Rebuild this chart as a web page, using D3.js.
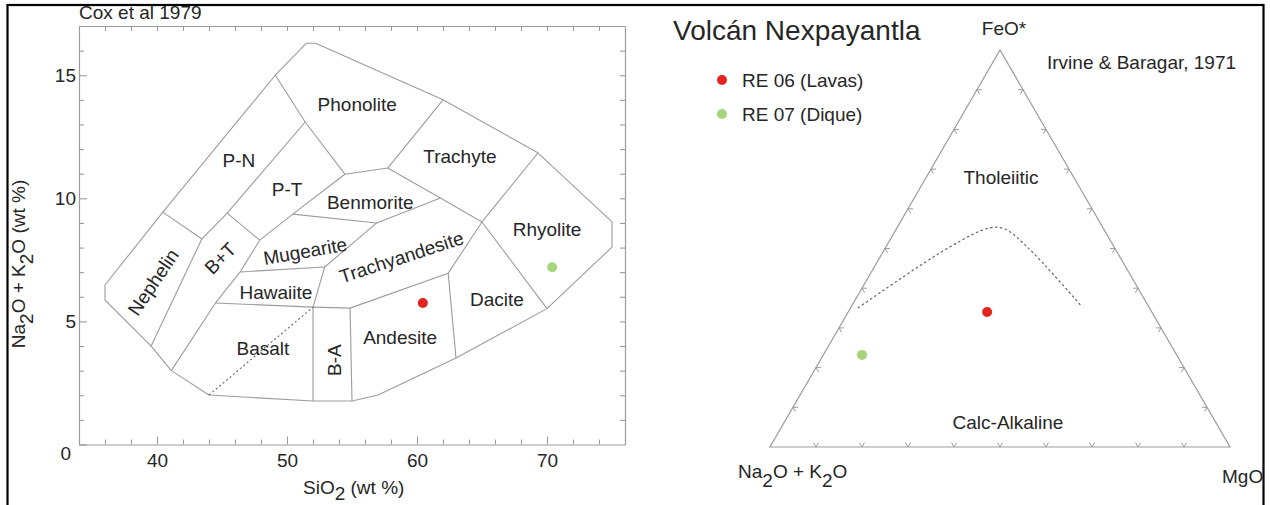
<!DOCTYPE html>
<html>
<head>
<meta charset="utf-8">
<script src="https://cdn.jsdelivr.net/npm/d3@7"></script>
<style>
  body { margin: 0; background: #fff; }
  svg { display: block; }
</style>
</head>
<body>
<svg id="chart" width="1270" height="505"></svg>
<script>
// TAS diagram (Cox et al 1979): points are [SiO2, Na2O+K2O] in wt %
const tasOuter = [
  [51.5, 16.3], [52.2, 16.3], [62.0, 14.0], [69.3, 11.85], [75.0, 9.04], [75.0, 8.02],
  [70.0, 5.52], [63.0, 3.51], [57.0, 2.01], [55.0, 1.77], [52.0, 1.77], [44.0, 2.01],
  [41.1, 3.0], [39.55, 4.0], [36.0, 5.87], [36.0, 6.48], [40.45, 9.44], [49.1, 15.0], [51.5, 16.3]
];
const tasLines = [
  [[40.45, 9.44], [43.45, 8.35]],
  [[43.45, 8.35], [39.55, 4.0]],
  [[43.45, 8.35], [45.4, 9.4], [51.4, 13.1]],
  [[45.4, 9.4], [47.9, 8.3]],
  [[49.1, 15.0], [51.4, 13.1], [54.45, 10.98], [57.75, 11.23], [62.0, 14.0]],
  [[47.9, 8.3], [50.45, 9.36], [54.45, 10.98]],
  [[50.45, 9.36], [56.9, 9.0], [61.8, 10.01]],
  [[57.75, 11.23], [61.8, 10.01], [65.0, 9.04]],
  [[56.9, 9.0], [52.9, 7.21], [52.0, 5.58]],
  [[47.9, 8.3], [46.4, 7.01], [44.5, 5.75], [41.1, 3.0]],
  [[46.4, 7.01], [52.9, 7.21]],
  [[44.5, 5.75], [52.0, 5.58], [54.85, 5.54], [62.4, 6.96], [65.0, 9.04]],
  [[52.0, 5.58], [52.0, 1.77]],
  [[54.85, 5.54], [55.0, 1.77]],
  [[62.4, 6.96], [63.0, 3.51]],
  [[65.0, 9.04], [69.3, 11.84]],
  [[65.0, 9.04], [70.0, 5.52]]
];
const tasDashed = [[44.0, 2.01], [52.0, 5.58]];

const fieldNames = ['Phonolite', 'Trachyte', 'P-N', 'P-T', 'Benmorite', 'Mugearite', 'Trachyandesite',
  'Hawaiite', 'Nephelin', 'B+T', 'Basalt', 'B-A', 'Andesite', 'Dacite', 'Rhyolite'];
const fieldSiO2 = [55.4, 63.3, 46.3, 50.0, 56.4, 51.4, 58.8, 49.15, 39.7, 44.85, 48.15, 53.6, 58.7, 66.15, 70.0];
const fieldAlk = [13.83, 11.72, 11.56, 10.38, 9.85, 7.86, 7.62, 6.19, 6.6, 7.57, 3.92, 3.43, 4.37, 5.91, 8.75];
const fieldTilt = { 'Mugearite': -10, 'Trachyandesite': -18, 'Nephelin': -56, 'B+T': -45, 'B-A': -90 };

const xTicks = [36, 38, 40, 42, 44, 46, 48, 50, 52, 54, 56, 58, 60, 62, 64, 66, 68, 70, 72, 74];
const xLabels = [40, 50, 60, 70];
const yTicks = [0, 1, 2, 3, 4, 5, 6, 7, 8, 9, 10, 11, 12, 13, 14, 15, 16];
const yLabels = [0, 5, 10, 15];

// samples
const sampleNames = ['RE 06 (Lavas)', 'RE 07 (Dique)'];
const sampleColors = ['#e12420', '#a8d47c'];
const sampleSiO2 = [60.45, 70.4];
const sampleAlk = [5.75, 7.2];
// AFM (Irvine & Baragar, 1971): A = Na2O+K2O, F = FeO*, M = MgO
const sampleA = [35.8, 68.4];
const sampleF = [34.0, 23.2];
const sampleM = [30.2, 8.4];
const ibA = [63.4, 35.7, 24.6, 21.5, 18.9, 14.5];
const ibF = [35.0, 50.4, 55.2, 54.9, 50.4, 35.3];
const ibM = [1.6, 13.9, 20.2, 23.6, 30.7, 50.2];
const afmTicks = [10, 20, 30, 40, 50, 60, 70, 80, 90];

const font = '"Liberation Sans", Arial, sans-serif';
const ink = '#262626';
const gray = '#9c9c9c';
const svg = d3.select('#chart').attr('font-family', font);

// frame
svg.append('rect').attr('x', 7.5).attr('y', 5).attr('width', 1256).attr('height', 540)
  .attr('fill', 'none').attr('stroke', '#000').attr('stroke-width', 2.2);

// ---------- TAS ----------
const x = d3.scaleLinear().domain([34, 76]).range([79, 625]);
const y = d3.scaleLinear().domain([0, 17]).range([444.5, 26]);
const line = d3.line().x(d => x(d[0])).y(d => y(d[1]));

const styleAxis = g => {
  g.attr('font-family', font).attr('font-size', 19);
  g.select('.domain').attr('stroke', gray).attr('stroke-width', 1.2);
  g.selectAll('.tick line').attr('stroke', gray).attr('stroke-width', 1.1);
  g.selectAll('.tick text').attr('fill', ink);
};

const gb = svg.append('g').attr('transform', `translate(0,${y(0)})`)
  .call(d3.axisBottom(x).tickValues(xTicks).tickSizeInner(-5).tickSizeOuter(0).tickPadding(9)
    .tickFormat(d => xLabels.includes(d) ? d : ''));
styleAxis(gb);
gb.selectAll('.tick line').attr('y2', d => xLabels.includes(d) ? -8 : -5);

const gt = svg.append('g').attr('transform', `translate(0,${y(17)})`)
  .call(d3.axisTop(x).tickValues(xTicks).tickSizeInner(-5).tickSizeOuter(0).tickFormat(''));
styleAxis(gt);

const gl = svg.append('g').attr('transform', `translate(${x(34)},0)`)
  .call(d3.axisLeft(y).tickValues(yTicks).tickSizeInner(-5).tickSizeOuter(0).tickPadding(3)
    .tickFormat(d => yLabels.includes(d) ? d : ''));
styleAxis(gl);
gl.selectAll('.tick line').attr('x2', d => yLabels.includes(d) ? 8 : 5);
gl.selectAll('.tick text').filter(d => d === 0).attr('transform', 'translate(-5,9)');

const gr = svg.append('g').attr('transform', `translate(${x(76)},0)`)
  .call(d3.axisRight(y).tickValues(yTicks.slice(1)).tickSizeInner(-5).tickSizeOuter(0).tickFormat(''));
styleAxis(gr);

svg.append('text').attr('x', 79).attr('y', 19).attr('font-size', 19).attr('fill', ink).text('Cox et al 1979');

// axis titles
const xt = svg.append('text').attr('x', 303).attr('y', 494).attr('font-size', 19).attr('fill', ink);
xt.append('tspan').text('SiO');
xt.append('tspan').attr('dy', 6).text('2');
xt.append('tspan').attr('dy', -6).text(' (wt %)');

const yt = svg.append('text').attr('transform', 'translate(25,264) rotate(-90)')
  .attr('text-anchor', 'middle').attr('font-size', 19).attr('fill', ink);
yt.append('tspan').text('Na');
yt.append('tspan').attr('dy', 8).text('2');
yt.append('tspan').attr('dy', -8).text('O + K');
yt.append('tspan').attr('dy', 8).text('2');
yt.append('tspan').attr('dy', -8).text('O  (wt %)');

// fields
const tas = svg.append('g').attr('fill', 'none').attr('stroke', gray).attr('stroke-width', 1.1)
  .attr('stroke-linejoin', 'round');
tas.append('path').attr('d', line(tasOuter));
tas.selectAll('path.b').data(tasLines).join('path').attr('class', 'b').attr('d', line);
tas.append('path').attr('d', line(tasDashed)).attr('stroke', '#666').attr('stroke-dasharray', '2,2.5');

svg.append('g').selectAll('text').data(fieldNames).join('text')
  .attr('transform', (d, i) => `translate(${x(fieldSiO2[i])},${y(fieldAlk[i])}) rotate(${fieldTilt[d] || 0})`)
  .attr('text-anchor', 'middle').attr('dy', '0.36em').attr('font-size', 19).attr('fill', ink)
  .text(d => d);

svg.append('g').selectAll('circle').data(sampleNames).join('circle')
  .attr('cx', (d, i) => x(sampleSiO2[i])).attr('cy', (d, i) => y(sampleAlk[i]))
  .attr('r', 5).attr('fill', (d, i) => sampleColors[i]);

// ---------- legend ----------
svg.append('text').attr('x', 673).attr('y', 40).attr('font-size', 28).attr('fill', ink).text('Volcán Nexpayantla');
const lg = svg.append('g').selectAll('g').data(sampleNames).join('g')
  .attr('transform', (d, i) => `translate(722,${80 + i * 34})`);
lg.append('circle').attr('r', 5).attr('fill', (d, i) => sampleColors[i]);
lg.append('text').attr('x', 20).attr('y', 7).attr('font-size', 19).attr('fill', ink).text(d => d);

// ---------- AFM ----------
const h = Math.sqrt(3) / 2;
const tx = d3.scaleLinear().domain([0, 1]).range([770, 1230]);
const ty = d3.scaleLinear().domain([0, h]).range([447, 50]);
const tern = (a, f, m) => {
  const s = a + f + m;
  return [tx((m + f / 2) / s), ty(f / s * h)];
};
const afm = svg.append('g').attr('fill', 'none').attr('stroke', gray).attr('stroke-width', 1.2);
afm.append('path').attr('d', d3.line()([tern(100, 0, 0), tern(0, 0, 100), tern(0, 100, 0)]) + 'Z');

// chevron ticks along each side
const tk = 1.1;
const tickSegs = [];
afmTicks.forEach(t => {
  // bottom (F = 0)
  let p = [100 - t, 0, t];
  tickSegs.push([p, [p[0] - tk, tk, p[2]]], [p, [p[0], tk, p[2] - tk]]);
  // left (M = 0)
  p = [100 - t, t, 0];
  tickSegs.push([p, [p[0] - tk, p[1], tk]], [p, [p[0], p[1] - tk, tk]]);
  // right (A = 0)
  p = [0, t, 100 - t];
  tickSegs.push([p, [tk, p[1] - tk, p[2]]], [p, [tk, p[1], p[2] - tk]]);
});
afm.selectAll('line').data(tickSegs).join('line')
  .attr('x1', d => tern(...d[0])[0]).attr('y1', d => tern(...d[0])[1])
  .attr('x2', d => tern(...d[1])[0]).attr('y2', d => tern(...d[1])[1])
  .attr('stroke-width', 1);

const ibPts = ibA.map((a, i) => tern(a, ibF[i], ibM[i]));
afm.append('path').attr('d', d3.line().curve(d3.curveCatmullRom)(ibPts))
  .attr('stroke', '#666').attr('stroke-width', 1.2).attr('stroke-dasharray', '2.5,2.5');

svg.append('g').selectAll('circle').data(sampleNames).join('circle')
  .attr('cx', (d, i) => tern(sampleA[i], sampleF[i], sampleM[i])[0])
  .attr('cy', (d, i) => tern(sampleA[i], sampleF[i], sampleM[i])[1])
  .attr('r', 5).attr('fill', (d, i) => sampleColors[i]);

const afmText = (tx0, ty0, anchor, s) => svg.append('text').attr('x', tx0).attr('y', ty0)
  .attr('text-anchor', anchor).attr('font-size', 19).attr('fill', ink).text(s);
afmText(1004, 35, 'middle', 'FeO*');
afmText(1047, 69, 'start', 'Irvine & Baragar, 1971');
afmText(1001, 184, 'middle', 'Tholeiitic');
afmText(1008, 429, 'middle', 'Calc-Alkaline');
afmText(1222, 483, 'start', 'MgO');
const ak = svg.append('text').attr('x', 738).attr('y', 478).attr('font-size', 19).attr('fill', ink);
ak.append('tspan').text('Na');
ak.append('tspan').attr('dy', 9).text('2');
ak.append('tspan').attr('dy', -9).text('O + K');
ak.append('tspan').attr('dy', 9).text('2');
ak.append('tspan').attr('dy', -9).text('O');
</script>
</body>
</html>
